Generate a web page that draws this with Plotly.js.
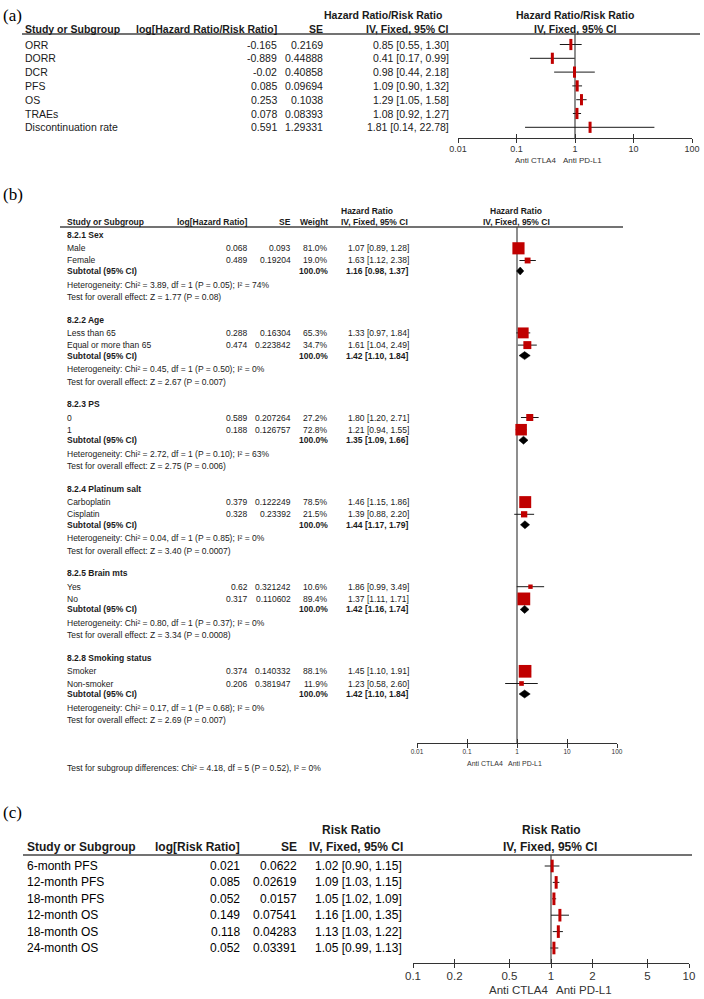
<!DOCTYPE html>
<html><head><meta charset="utf-8">
<script src="https://cdn.plot.ly/plotly-3.0.1.min.js"></script>
<style>html,body{margin:0;padding:0;background:#fff}</style>
</head><body><div id="chart" style="width:704px;height:999px"></div>
<script>
// ---------- Panel (a) data ----------
const aStudies = ['ORR','DORR','DCR','PFS','OS','TRAEs','Discontinuation rate'];
const aLogRatio = [-0.165,-0.889,-0.02,0.085,0.253,0.078,0.591];
const aSE = [0.2169,0.44888,0.40858,0.09694,0.1038,0.08393,1.29331];
const aRatio = [0.85,0.41,0.98,1.09,1.29,1.08,1.81];
const aLower = [0.55,0.17,0.44,0.90,1.05,0.92,0.14];
const aUpper = [1.30,0.99,2.18,1.32,1.58,1.27,22.78];
const aTicks = [0.01,0.1,1,10,100];
const aTickText = ['0.01','0.1','1','10','100'];

// ---------- Panel (b) data ----------
const bGroups = ['8.2.1 Sex','8.2.2 Age','8.2.3 PS','8.2.4 Platinum salt','8.2.5 Brain mts','8.2.8 Smoking status'];
const bStudies = ['Male','Female','Less than 65','Equal or more than 65','0','1','Carboplatin','Cisplatin','Yes','No','Smoker','Non-smoker'];
const bLogHR = [0.068,0.489,0.288,0.474,0.589,0.188,0.379,0.328,0.62,0.317,0.374,0.206];
const bSE = [0.093,0.19204,0.16304,0.223842,0.207264,0.126757,0.122249,0.23392,0.321242,0.110602,0.140332,0.381947];
const bWeight = [81.0,19.0,65.3,34.7,27.2,72.8,78.5,21.5,10.6,89.4,88.1,11.9];
const bHR = [1.07,1.63,1.33,1.61,1.80,1.21,1.46,1.39,1.86,1.37,1.45,1.23];
const bLower = [0.89,1.12,0.97,1.04,1.20,0.94,1.15,0.88,0.99,1.11,1.10,0.58];
const bUpper = [1.28,2.38,1.84,2.49,2.71,1.55,1.86,2.20,3.49,1.71,1.91,2.60];
const bSubHR = [1.16,1.42,1.35,1.44,1.42,1.42];
const bSubLower = [0.98,1.10,1.09,1.17,1.16,1.10];
const bSubUpper = [1.37,1.84,1.66,1.79,1.74,1.84];
const bChi2 = ['3.89','0.45','2.72','0.04','0.80','0.17'];
const bHetP = ['0.05','0.50','0.10','0.85','0.37','0.68'];
const bI2 = ['74','0','63','0','0','0'];
const bZ = ['1.77','2.67','2.75','3.40','3.34','2.69'];
const bZP = ['0.08','0.007','0.006','0.0007','0.0008','0.007'];
const bOverall = 'Test for subgroup differences: Chi² = 4.18, df = 5 (P = 0.52), I² = 0%';

// ---------- Panel (c) data ----------
const cStudies = ['6-month PFS','12-month PFS','18-month PFS','12-month OS','18-month OS','24-month OS'];
const cLogRR = ['0.021','0.085','0.052','0.149','0.118','0.052'];
const cSE = ['0.0622','0.02619','0.0157','0.07541','0.04283','0.03391'];
const cRR = [1.02,1.09,1.05,1.16,1.13,1.05];
const cLower = [0.90,1.03,1.02,1.00,1.03,0.99];
const cUpper = [1.15,1.15,1.09,1.35,1.22,1.13];
const cTicks = [0.1,0.2,0.5,1,2,5,10];
const cTickText = ['0.1','0.2','0.5','1','2','5','10'];

// ---------- helpers ----------
const W = 704, H = 999;
const FONT = '"Liberation Sans", Arial, sans-serif';
const SERIF = '"Liberation Serif", "Times New Roman", serif';
const RED = '#c00000';
const INK = '#1a1a1a';
const annotations = [], shapes = [], traces = [];
const px = x => x / W;
const py = y => 1 - y / H;
function txt(text, x, y, anchor, size, bold, color, family) {
  annotations.push({text: bold ? '<b>' + text + '</b>' : text, x: px(x), y: py(y),
    xref: 'paper', yref: 'paper', xanchor: anchor, yanchor: 'middle', showarrow: false,
    borderpad: 0, borderwidth: 0,
    font: {family: family || FONT, size: size, color: color || INK}});
}
function hline(x0, x1, y, w, c) {
  shapes.push({type: 'line', xref: 'paper', yref: 'paper', x0: px(x0), x1: px(x1), y0: py(y), y1: py(y),
    line: {color: c || '#444', width: w || 1}});
}
const ci = v => v.toFixed(2);
const ciText = (r, l, u) => ci(r) + ' [' + ci(l) + ', ' + ci(u) + ']';

function xAxis(domain, range, tickvals, ticktext, size, anchor, inside) {
  return {type: 'log', domain: domain, range: range, anchor: anchor,
    tickmode: 'array', tickvals: tickvals, ticktext: ticktext,
    ticks: inside ? 'inside' : 'outside', ticklen: 4, tickwidth: 1, tickcolor: '#333',
    ticklabelstandoff: -2,
    showticklabels: !inside, showline: !inside, linecolor: '#333', linewidth: 1,
    showgrid: false, zeroline: false, fixedrange: true,
    tickfont: {family: FONT, size: size, color: '#333'}};
}
function yAxis(top, bottom) {
  return {domain: [1 - bottom / H, 1 - top / H], range: [bottom, top], visible: false, fixedrange: true};
}

// ================= Panel (a) =================
const aRowY = i => 44.5 + 13.8 * i;
txt('(a)', 3, 16, 'left', 17, false, '#000', SERIF);
txt('Hazard Ratio/Risk Ratio', 442, 15, 'right', 10.5, true);
txt('Hazard Ratio/Risk Ratio', 575, 15, 'center', 10.5, true);
txt('Study or Subgroup', 25, 29.5, 'left', 10.5, true);
txt('log[Hazard Ratio/Risk Ratio]', 277, 29.5, 'right', 10.5, true);
txt('SE', 323, 29.5, 'right', 10.5, true);
txt('IV, Fixed, 95% CI', 449, 29.5, 'right', 10.5, true);
txt('IV, Fixed, 95% CI', 575, 29.5, 'center', 10.5, true);
hline(22, 700, 34, 1.5, '#444');
aStudies.forEach((s, i) => {
  const y = aRowY(i);
  txt(s, 25, y, 'left', 10.5);
  txt(String(aLogRatio[i]), 277, y, 'right', 10.5);
  txt(String(aSE[i]), 323, y, 'right', 10.5);
  txt(ciText(aRatio[i], aLower[i], aUpper[i]), 449, y, 'right', 10.5);
});
txt('Anti CTLA4', 556, 160.5, 'right', 8, false, '#333');
txt('Anti PD-L1', 563, 160.5, 'left', 8, false, '#333');

function forest(xa, ya, lower, upper, est, rowY, lineTop, lineBottom, markerSize) {
  traces.push({x: [1, 1], y: [lineTop, lineBottom], xaxis: xa, yaxis: ya, mode: 'lines',
    line: {color: '#444', width: 1.2}, hoverinfo: 'skip', showlegend: false, cliponaxis: false});
  const cx = [], cy = [];
  lower.forEach((l, i) => { cx.push(l, upper[i], null); cy.push(rowY(i), rowY(i), null); });
  traces.push({x: cx, y: cy, xaxis: xa, yaxis: ya, mode: 'lines', line: {color: INK, width: 1},
    hoverinfo: 'skip', showlegend: false, connectgaps: false});
  if (markerSize) {
    traces.push({x: est, y: est.map((_, i) => rowY(i)), xaxis: xa, yaxis: ya, mode: 'markers',
      marker: {symbol: 'line-ns', size: markerSize, color: RED, opacity: 1, line: {width: 3, color: RED}},
      hoverinfo: 'skip', showlegend: false});
  }
}
forest('x', 'y', aLower, aUpper, aRatio, aRowY, 34, 138, 8);

// ================= Panel (b) =================
const FB = 8.5;
const gTop = g => 235 + 84.6 * g;
const bRowOffsets = [13.3, 25.5];
const bRowY = i => gTop(Math.floor(i / 2)) + bRowOffsets[i % 2];
const bSubY = g => gTop(g) + 36;
txt('(b)', 3, 195, 'left', 17, false, '#000', SERIF);
txt('Hazard Ratio', 341, 211, 'left', FB, true);
txt('Hazard Ratio', 516, 211, 'center', FB, true);
txt('Study or Subgroup', 67, 222, 'left', FB, true);
txt('log[Hazard Ratio]', 248, 222, 'right', FB, true);
txt('SE', 291, 222, 'right', FB, true);
txt('Weight', 328, 222, 'right', FB, true);
txt('IV, Fixed, 95% CI', 341, 222, 'left', FB, true);
txt('IV, Fixed, 95% CI', 516, 222, 'center', FB, true);
hline(60, 623, 227, 1.3, '#444');
bGroups.forEach((g, gi) => {
  const t = gTop(gi);
  txt(g, 67, t, 'left', FB, true);
  txt('Subtotal (95% CI)', 67, bSubY(gi), 'left', FB, true);
  txt('100.0%', 328, bSubY(gi), 'right', FB, true);
  txt(ciText(bSubHR[gi], bSubLower[gi], bSubUpper[gi]), 409, bSubY(gi), 'right', FB, true);
  txt('Heterogeneity: Chi² = ' + bChi2[gi] + ', df = 1 (P = ' + bHetP[gi] + '); I² = ' + bI2[gi] + '%', 67, t + 49.5, 'left', FB);
  txt('Test for overall effect: Z = ' + bZ[gi] + ' (P = ' + bZP[gi] + ')', 67, t + 62, 'left', FB);
});
bStudies.forEach((s, i) => {
  const y = bRowY(i);
  txt(s, 67, y, 'left', FB);
  txt(String(bLogHR[i]), 248, y, 'right', FB);
  txt(String(bSE[i]), 291, y, 'right', FB);
  txt(bWeight[i].toFixed(1) + '%', 328, y, 'right', FB);
  txt(ciText(bHR[i], bLower[i], bUpper[i]), 409, y, 'right', FB);
});
txt(bOverall, 67, 768, 'left', FB);
txt('Anti CTLA4', 503, 763.5, 'right', 7, false, '#333');
txt('Anti PD-L1', 508, 763.5, 'left', 7, false, '#333');
forest('x2', 'y2', bLower, bUpper, bHR, bRowY, 227, 743, 0);
traces.push({x: bHR, y: bHR.map((_, i) => bRowY(i)), xaxis: 'x2', yaxis: 'y2', mode: 'markers',
  marker: {symbol: 'square', size: bWeight.map(w => Math.max(3, 1.35 * Math.sqrt(w))), color: RED,
  opacity: 1, line: {width: 0}}, hoverinfo: 'skip', showlegend: false});
bSubHR.forEach((r, g) => {
  const y = bSubY(g);
  traces.push({x: [bSubLower[g], r, bSubUpper[g], r, bSubLower[g]], y: [y, y - 4, y, y + 4, y],
    xaxis: 'x2', yaxis: 'y2', mode: 'lines', fill: 'toself', fillcolor: '#000',
    line: {color: '#000', width: 0.5}, hoverinfo: 'skip', showlegend: false});
});

// ================= Panel (c) =================
const FC = 12;
const cRowY = i => 866 + 16.4 * i;
txt('(c)', 3, 812, 'left', 17, false, '#000', SERIF);
txt('Risk Ratio', 322, 830, 'left', FC, true);
txt('Risk Ratio', 551, 830, 'center', FC, true);
txt('Study or Subgroup', 27, 847, 'left', FC, true);
txt('log[Risk Ratio]', 240, 847, 'right', FC, true);
txt('SE', 297, 847, 'right', FC, true);
txt('IV, Fixed, 95% CI', 309, 847, 'left', FC, true);
txt('IV, Fixed, 95% CI', 550, 847, 'center', FC, true);
hline(23, 692, 855, 1.5, '#444');
cStudies.forEach((s, i) => {
  const y = cRowY(i);
  txt(s, 27, y, 'left', FC, false, '#000');
  txt(cLogRR[i], 240, y, 'right', FC, false, '#000');
  txt(cSE[i], 297, y, 'right', FC, false, '#000');
  txt(ciText(cRR[i], cLower[i], cUpper[i]), 402, y, 'right', FC, false, '#000');
});
txt('Anti CTLA4', 548, 989.5, 'right', 11.5, false, '#333');
txt('Anti PD-L1', 556, 989.5, 'left', 11.5, false, '#333');
forest('x3', 'y3', cLower, cUpper, cRR, cRowY, 855, 963, 9);

// empty traces to host the inside-tick overlay axes
traces.push({x: [], y: [], xaxis: 'x4', yaxis: 'y', showlegend: false});
traces.push({x: [], y: [], xaxis: 'x5', yaxis: 'y2', showlegend: false});
traces.push({x: [], y: [], xaxis: 'x6', yaxis: 'y3', showlegend: false});

const layout = {
  width: W, height: H, margin: {l: 0, r: 0, t: 0, b: 0},
  paper_bgcolor: '#fff', plot_bgcolor: 'rgba(0,0,0,0)',
  showlegend: false, hovermode: false,
  xaxis: xAxis([458 / W, 692 / W], [-2, 2], aTicks, aTickText, 9, 'y', false),
  yaxis: yAxis(0, 138),
  xaxis2: xAxis([417 / W, 617 / W], [-2, 2], aTicks, aTickText, 6.5, 'y2', false),
  yaxis2: yAxis(170, 743),
  xaxis3: xAxis([413 / W, 689 / W], [-1, 1], cTicks, cTickText, 11.5, 'y3', false),
  yaxis3: yAxis(800, 963),
  xaxis4: Object.assign(xAxis([458 / W, 692 / W], [-2, 2], aTicks, aTickText, 9, 'y', true), {overlaying: 'x'}),
  xaxis5: Object.assign(xAxis([417 / W, 617 / W], [-2, 2], aTicks, aTickText, 6.5, 'y2', true), {overlaying: 'x2'}),
  xaxis6: Object.assign(xAxis([413 / W, 689 / W], [-1, 1], cTicks, cTickText, 11.5, 'y3', true), {overlaying: 'x3'}),
  annotations: annotations, shapes: shapes
};
Plotly.newPlot('chart', traces, layout, {staticPlot: true, displayModeBar: false});
</script></body></html>
